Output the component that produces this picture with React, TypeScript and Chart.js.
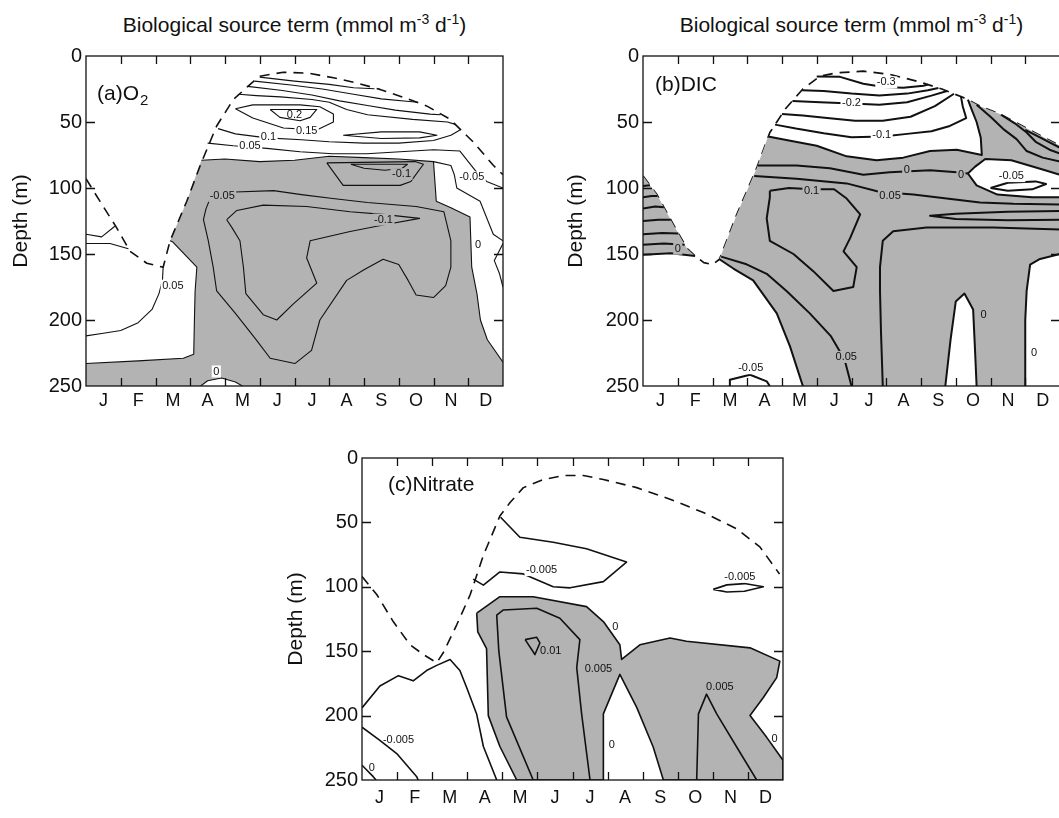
import React, { useEffect, useRef } from 'react';
import { Chart, registerables } from 'chart.js';

Chart.register(...registerables);

type P = [number, number];
type Lbl = [string, number, number, string];

// ---------- tick labels ----------
const MONTHS = ['J', 'F', 'M', 'A', 'M', 'J', 'J', 'A', 'S', 'O', 'N', 'D'];
const DEPTH_TICKS = [0, 50, 100, 150, 200, 250];

// ---------- panel (a) O2 : [month, depth m] ----------
const A_MLD: P[] = [[0, 93], [0.4, 110], [0.88, 130], [1.27, 148], [1.75, 157], [2.22, 160], [2.42, 140], [2.9, 110], [3.3, 82], [3.76, 53], [4.24, 33], [4.7, 22], [5.0, 15.3], [5.68, 12.3], [6.4, 13], [7.12, 16.5], [7.8, 20.5], [8.46, 25.3], [9.1, 31], [9.8, 37.8], [10.47, 47.8], [11.15, 65.3], [11.72, 82.8], [12, 90]];
const A_GRAY: P[] = [[3.32, 79], [4, 78], [5, 80], [6, 79], [7, 76], [8, 77], [9, 78], [10, 80], [10.08, 110], [10.5, 115], [11.05, 122], [11.1, 160], [11.25, 180], [11.35, 200], [11.55, 215], [12, 232], [12, 250], [4.5, 250], [4.3, 247], [3.9, 244], [3.5, 246], [3.3, 250], [0, 250], [0, 233], [1.5, 231], [2.8, 229], [3.1, 226], [3.12, 200], [3.14, 178], [3.19, 160], [2.5, 141], [2.42, 140], [2.9, 110], [3.32, 79]];
const A_ZERO_TOP: P[] = [[3.32, 79], [4, 78], [5, 80], [6, 79], [7, 76], [8, 77], [9, 78], [10, 80], [10.08, 110], [10.5, 115], [11.05, 122], [11.1, 160], [11.25, 180], [11.35, 200], [11.55, 215], [12, 232]];
const A_ZERO_LEFT: P[] = [[2.42, 140], [2.5, 141], [3.19, 160], [3.14, 178], [3.12, 200], [3.1, 226], [2.8, 229], [1.5, 231], [0, 233]];
const A_ZERO_BUMP: P[] = [[3.3, 250], [3.5, 246], [3.9, 244], [4.3, 247], [4.5, 250]];
const A_U1: P[] = [[5.0, 16], [6.0, 19], [7.0, 21.5], [7.7, 24], [8.3, 24.8]];
const A_U2: P[] = [[4.85, 19], [5.9, 22], [6.8, 25], [7.7, 29], [8.5, 32.5], [9.3, 34.5], [9.55, 35]];
const A_U3: P[] = [[4.65, 23], [5.6, 26], [6.5, 29.5], [7.3, 34], [8.1, 37.5], [8.9, 41], [9.9, 44], [10.2, 44.5]];
const A_U4: P[] = [[4.4, 29], [4.9, 30], [5.6, 31], [6.5, 33], [7.0, 35], [7.5, 40.5], [8.1, 44.5], [9.4, 48], [10.4, 50], [10.65, 52]];
const A_C015: P[] = [[4.3, 40], [4.8, 47], [5.68, 54.5], [6.64, 56], [7.12, 50], [7.12, 44], [6.73, 38.5], [6.16, 37], [4.8, 37], [4.3, 40]];
const A_C02: P[] = [[5.3, 40.5], [5.58, 46.5], [6.16, 49], [6.45, 46.5], [6.64, 40.5], [5.3, 40.5]];
const A_OVAL: P[] = [[7.4, 60], [8.5, 57.5], [9.6, 57.5], [10.1, 60], [9.6, 62], [8.5, 62.5], [7.4, 60]];
const A_C01: P[] = [[3.8, 55], [4.3, 59], [5.2, 62], [6.2, 63.5], [7.0, 65], [8, 66], [9, 66], [10, 64], [10.5, 60], [10.8, 55.5]];
const A_C005: P[] = [[3.5, 66], [4.24, 68], [5.2, 70], [6.16, 72.5], [7.1, 74], [8.08, 74], [9.04, 72.5], [10, 71], [10.76, 72], [11.0, 80], [11.24, 88], [11.53, 95], [12, 100]];
const A_R1: P[] = [[10.0, 80], [10.5, 83], [10.6, 90], [10.67, 100], [11.34, 110], [11.72, 135], [12, 140]];
const A_R3: P[] = [[12, 142], [11.75, 155], [11.9, 165], [12, 175]];
const A_L1: P[] = [[0, 135], [0.45, 137], [0.83, 129]];
const A_L2: P[] = [[0, 142], [0.69, 142], [1.22, 146]];
const A_L005: P[] = [[2.22, 160], [2.2, 170], [2.1, 180], [1.9, 192], [1.5, 202], [1.0, 208], [0.5, 210], [0, 212]];
const A_M005: P[] = [[3.45, 116], [3.6, 106], [4.3, 103], [5.4, 102], [6.2, 105], [7.1, 108], [8.1, 111], [9.5, 114], [10.3, 118], [10.5, 140], [10.5, 160], [10.35, 174], [10.0, 183], [9.5, 181], [9.27, 170], [9.0, 158], [8.55, 154], [8.0, 162], [7.5, 170], [6.73, 200], [6.49, 223], [6.01, 233], [5.3, 229], [4.9, 215], [4.3, 195], [3.76, 178], [3.66, 160], [3.52, 140], [3.38, 124], [3.45, 116]];
const A_M01: P[] = [[4.05, 124], [4.34, 117], [5.1, 113], [6.35, 114], [7.6, 118], [8.55, 120], [9.6, 123], [8.55, 128], [7.6, 133], [6.45, 140], [6.35, 153], [6.64, 172], [5.96, 188], [5.49, 200], [5.1, 196], [4.6, 180], [4.53, 160], [4.43, 140], [4.2, 130], [4.05, 124]];
const A_TRAP: P[] = [[6.93, 81], [9.47, 80], [9.71, 82], [9.35, 95], [9.04, 98], [7.4, 98], [6.93, 81]];
const A_LENS: P[] = [[7.62, 82], [8.0, 85], [8.6, 86.5], [9.1, 85], [9.25, 82], [7.62, 82]];
const A_LABELS: Lbl[] = [['0.2', 6.0, 45, ''], ['0.15', 6.35, 56.5, 'w'], ['0.1', 5.25, 61.5, 'w'], ['0.05', 4.72, 68.5, 'w'], ['-0.1', 9.08, 89.5, 'g'], ['-0.05', 11.1, 92, 'w'], ['-0.05', 3.92, 106, 'g'], ['-0.1', 8.56, 124, 'g'], ['0', 11.28, 143.5, 'w'], ['0.05', 2.5, 174, 'w'], ['0', 3.75, 239, 'w']];

// ---------- panel (b) DIC ----------
const B_MLD: P[] = [[0, 91], [0.4, 105], [0.88, 128], [1.27, 146], [1.5, 151.5], [1.75, 156.5], [2.0, 158], [2.2, 154], [2.7, 120], [3.27, 85], [3.65, 58], [4.1, 40], [4.6, 25], [5.09, 15.3], [5.57, 12.8], [6.34, 11.5], [7.11, 14], [7.87, 19], [8.6, 25], [9.22, 31.5], [9.7, 38], [10.27, 44], [11.2, 57], [11.71, 64], [12, 68]];
const B_GRAY: P[] = [[2.2, 154], [2.7, 120], [3.27, 85], [3.6, 61], [4.2, 64], [5.0, 68], [5.86, 76], [6.72, 79], [7.49, 77], [8.26, 72], [9.03, 71], [9.75, 75], [9.72, 62], [9.6, 50], [9.45, 40], [9.35, 33.1], [9.7, 38], [10.27, 44], [11.2, 57], [11.71, 64], [12, 68], [12, 150], [11.4, 154], [11.14, 158], [11.04, 178], [11.0, 200], [11.0, 250], [9.6, 250], [9.55, 220], [9.5, 192], [9.25, 180], [9.0, 186], [8.85, 215], [8.7, 250], [4.6, 250], [4.23, 220], [3.85, 195], [3.17, 170], [2.6, 161], [2.2, 154]];
const B_TRI: P[] = [[0, 91], [0.4, 105], [0.88, 128], [1.27, 146], [1.5, 151.5], [0.8, 149.5], [0, 150.5], [0, 91]];
const B_T1: P[] = [[0, 98.5], [0.2, 98]];
const B_T2: P[] = [[0, 107], [0.25, 106], [0.42, 106]];
const B_T3: P[] = [[0, 115.5], [0.35, 114], [0.6, 114.5]];
const B_T4: P[] = [[0, 125], [0.45, 124], [0.8, 124]];
const B_T5: P[] = [[0, 135], [0.55, 134], [1.02, 134.5]];
const B_T6: P[] = [[0, 143], [0.6, 142], [1.2, 143]];
const B_T0: P[] = [[0, 150.5], [0.8, 149.5], [1.5, 151.5]];
const B_L1: P[] = [[5.0, 15.5], [5.67, 15.8], [6.34, 21], [6.92, 23.5], [7.49, 24], [8.07, 22.5], [8.2, 21.7]];
const B_L2: P[] = [[4.58, 26], [5.2, 26.5], [6.0, 28.5], [6.8, 30], [7.6, 28.5], [8.2, 26], [8.5, 24.2]];
const B_L3: P[] = [[4.3, 34], [5.1, 35], [6.0, 36], [6.8, 37], [7.6, 35], [8.3, 30], [8.75, 26.5]];
const B_L4: P[] = [[4.0, 44], [4.6, 45], [5.3, 47], [6.1, 49], [6.9, 49], [7.7, 46], [8.4, 38], [8.95, 28.6]];
const B_L5: P[] = [[3.8, 52], [4.4, 55], [5.2, 58.5], [6.0, 61.5], [6.9, 61], [7.6, 59], [8.3, 57], [8.83, 53], [9.3, 47], [9.2, 38], [9.15, 30.8]];
const B_ZERO_TOP: P[] = [[3.6, 61], [4.2, 64], [5.0, 68], [5.86, 76], [6.72, 79], [7.49, 77], [8.26, 72], [9.03, 71], [9.75, 75], [9.72, 62], [9.6, 50], [9.45, 40], [9.35, 33.1]];
const B_A: P[] = [[3.3, 83], [4.42, 83], [5.38, 85], [6.34, 90], [7.1, 88], [8.26, 86.5], [9.03, 88], [9.35, 89]];
const B_WHITE: P[] = [[9.35, 89], [9.55, 84], [9.85, 78], [10.6, 79], [11.5, 86], [12, 90], [12, 107], [11.2, 107], [10.2, 105], [9.6, 98], [9.35, 89]];
const B_LENS: P[] = [[10.0, 100], [10.5, 96], [11.3, 95], [11.6, 97], [11.2, 101], [10.5, 102], [10.0, 100]];
const B_B: P[] = [[3.2, 91], [4.42, 93], [5.86, 96.5], [6.82, 103], [7.78, 105], [8.74, 108], [9.7, 111], [10.66, 112], [12, 112.5]];
const B_C: P[] = [[3.65, 102], [4.2, 100], [4.85, 101], [5.5, 101], [5.86, 108], [6.25, 120], [5.96, 138], [5.77, 148], [6.15, 160], [6.05, 175], [5.48, 178], [4.9, 163], [4.33, 150], [3.65, 140], [3.56, 123], [3.65, 107], [3.65, 102]];
const B_TONGUE: P[] = [[12, 117.5], [10.5, 118], [9.0, 119.5], [8.26, 121], [9.0, 123.5], [10.5, 124.5], [12, 124]];
const B_D: P[] = [[12, 131.5], [10.08, 130], [8.16, 130], [7.2, 132.8], [6.9, 140], [6.82, 160], [6.82, 178], [6.85, 210], [6.9, 250]];
const B_E: P[] = [[2.25, 152], [2.98, 157.8], [3.56, 165], [4.13, 178], [4.8, 195], [5.4, 212], [5.8, 230], [6.0, 250]];
const B_GLEFT: P[] = [[2.2, 154], [2.6, 161], [3.17, 170], [3.85, 195], [4.23, 220], [4.6, 250]];
const B_SPIKE: P[] = [[8.7, 250], [8.85, 215], [9.0, 186], [9.25, 180], [9.5, 192], [9.55, 220], [9.6, 250]];
const B_RWHITE: P[] = [[12, 150], [11.4, 154], [11.14, 158], [11.04, 178], [11.0, 200], [11.0, 250]];
const B_BUMP: P[] = [[2.5, 250], [2.5, 245.3], [3.08, 241.5], [3.56, 246.5], [3.65, 250]];
const B_G1: P[] = [[9.6, 37], [10.0, 46], [10.4, 56], [10.75, 63], [11.04, 72], [11.5, 77], [12, 80]];
const B_G2: P[] = [[10.3, 44.5], [10.7, 51], [11.04, 58], [11.3, 65], [11.7, 71], [12, 74]];
const B_G3: P[] = [[11.0, 56], [11.45, 62], [12, 69.5]];
const B_LABELS: Lbl[] = [['-0.3', 7.0, 20, 'w'], ['-0.2', 6.0, 35.5, 'w'], ['-0.1', 6.87, 60, 'w'], ['0', 7.59, 86, 'g'], ['0', 9.15, 90, 'g'], ['-0.05', 10.6, 91, 'w'], ['0.1', 4.85, 102, 'g'], ['0.05', 7.11, 106, 'g'], ['0', 1.0, 146, 'g'], ['-0.05', 3.1, 236.5, 'w'], ['0.05', 5.85, 228, 'g'], ['0', 9.8, 196, 'g'], ['0', 11.25, 225, 'w']];

// ---------- panel (c) Nitrate ----------
const C_MLD: P[] = [[0, 92], [0.42, 106], [0.89, 127], [1.37, 145], [1.75, 152.6], [2.13, 159], [2.32, 151], [2.7, 129.5], [3.08, 106.4], [3.46, 75.6], [3.93, 45], [4.22, 34.6], [4.6, 23], [5.17, 16.7], [5.74, 13.6], [6.31, 13.6], [6.88, 16.7], [7.83, 23], [8.78, 32], [9.73, 42.3], [10.68, 55], [11.34, 69], [11.9, 90]];
const C_GRAY: P[] = [[3.27, 120.5], [3.93, 107.7], [4.88, 107.7], [6.4, 115.4], [6.88, 127], [7.35, 145], [7.4, 156.4], [7.92, 145], [8.78, 139.7], [9.25, 142.3], [11.06, 147.4], [11.91, 157.7], [11.82, 170.5], [11.44, 186], [11.06, 200], [11.53, 216.7], [12, 234.6], [12, 250], [8.59, 250], [8.3, 224.4], [7.83, 193.6], [7.35, 168], [6.88, 198.7], [6.88, 250], [4.41, 250], [3.93, 224], [3.6, 200], [3.55, 148], [3.3, 135], [3.27, 120.5]];
const C_M005A: P[] = [[3.17, 94], [3.46, 98.7], [3.93, 88.5], [4.6, 90], [5.45, 100], [5.93, 100.8], [6.88, 96], [7.54, 80.8], [6.4, 70.5], [5.45, 65.4], [4.5, 61.5], [3.95, 46]];
const C_LENS: P[] = [[10.01, 102], [10.4, 98.5], [10.9, 97.5], [11.44, 100], [10.9, 103.5], [10.4, 104], [10.01, 102]];
const C_005A: P[] = [[4.88, 250], [4.12, 201], [3.9, 150], [3.84, 122], [4.03, 118], [4.98, 116.7], [5.64, 124.4], [6.21, 141], [6.12, 162.8], [6.26, 198.7], [6.5, 250]];
const C_001: P[] = [[4.65, 141], [4.98, 139.2], [5.07, 143.6], [4.93, 152.6], [4.65, 141]];
const C_005B: P[] = [[9.54, 250], [9.59, 198.7], [9.82, 183.3], [10.11, 198.7], [10.68, 224.4], [11.25, 250]];
const C_0LEFT: P[] = [[0, 194], [0.51, 177], [1.04, 169], [1.46, 173], [1.84, 165], [2.13, 161], [2.51, 156.4], [2.79, 165], [2.98, 178], [3.27, 199], [3.46, 224], [3.84, 250]];
const C_M005B: P[] = [[0, 209], [0.5, 219], [0.99, 229.5], [1.56, 247.4], [1.6, 250]];
const C_0CORNER: P[] = [[0, 238.5], [0.32, 247.4], [0.4, 250]];
const C_LABELS: Lbl[] = [['-0.005', 5.12, 87, 'w'], ['-0.005', 10.77, 92, 'w'], ['0', 7.22, 131, ''], ['0.01', 5.38, 150, ''], ['0.005', 6.74, 164, 'g'], ['0', 7.12, 223, 'w'], ['0.005', 10.2, 178, 'g'], ['0', 11.76, 218, ''], ['-0.005', 1.04, 219, ''], ['0', 0.28, 241, '']];

// ---------- styles ----------
const INK = '#111111';
const GRAY = '#b3b3b3';
const FONT = '"Liberation Sans", Arial, Helvetica, sans-serif';

const xy = (a: P[]) => a.map(([x, y]) => ({ x, y }));
const ln = (a: P[], w: number, order = 10, dash: number[] = []) => ({
  data: xy(a), borderColor: INK, borderWidth: w, borderDash: dash, pointRadius: 0,
  fill: false, tension: 0, order, borderJoinStyle: 'round', borderCapStyle: 'butt',
});
const area = (a: P[], color: string, order: number, border = 0) => ({
  data: xy(a), backgroundColor: color, borderColor: INK, borderWidth: border, pointRadius: 0,
  fill: 'shape', tension: 0, order, borderJoinStyle: 'round',
});

interface Spec {
  left: number; top: number; w: number; h: number; padRight: number;
  titlePad: number; xPad: number;
  datasets: any[]; labels: Lbl[];
  tag: string; tagSub: string; tagDx: number; tagDy: number;
}

const DASH = [10, 7];

const SPEC_A: Spec = {
  left: 0, top: 40, w: 530, h: 380, padRight: 27, titlePad: 9, xPad: 4,
  tag: '(a)O', tagSub: '2', tagDx: 11, tagDy: 43.5, labels: A_LABELS,
  datasets: [
    area(A_GRAY, GRAY, 40),
    ...[A_ZERO_TOP, A_ZERO_LEFT, A_ZERO_BUMP, A_U1, A_U2, A_U3, A_U4, A_C015, A_C02, A_OVAL, A_C01, A_C005, A_R1, A_R3, A_L1, A_L2, A_L005, A_M005, A_M01, A_TRAP, A_LENS].map((a) => ln(a, 1.1)),
    ln(A_MLD, 1.6, 5, DASH),
  ],
};

const SPEC_B: Spec = {
  left: 557, top: 40, w: 530, h: 380, padRight: 27, titlePad: 7, xPad: 4,
  tag: '(b)DIC', tagSub: '', tagDx: 12, tagDy: 35, labels: B_LABELS,
  datasets: [
    ln(B_MLD, 1.7, 50, DASH),
    area(B_GRAY, GRAY, 40),
    area(B_TRI, GRAY, 40),
    area(B_WHITE, '#ffffff', 30, 2),
    ...[B_T1, B_T2, B_T3, B_T4, B_T5, B_T6, B_T0, B_L1, B_L2, B_L3, B_L4, B_L5, B_ZERO_TOP, B_A, B_LENS, B_B, B_C, B_TONGUE, B_D, B_E, B_GLEFT, B_SPIKE, B_RWHITE, B_BUMP, B_G1, B_G2, B_G3].map((a) => ln(a, 2)),
  ],
};

const SPEC_C: Spec = {
  left: 276, top: 442, w: 534, h: 372, padRight: 27, titlePad: 8, xPad: 7,
  tag: '(c)Nitrate', tagSub: '', tagDx: 26, tagDy: 33, labels: C_LABELS,
  datasets: [
    area(C_GRAY, GRAY, 40, 1.6),
    ...[C_M005A, C_LENS, C_005A, C_001, C_005B, C_0LEFT, C_M005B, C_0CORNER].map((a) => ln(a, 1.6)),
    ln(C_MLD, 1.6, 5, DASH),
  ],
};

function buildConfig(spec: Spec): any {
  const decor = {
    id: 'decor',
    afterDatasetsDraw(chart: any) {
      const ctx = chart.ctx;
      const xs = chart.scales.x;
      const ys = chart.scales.y;
      ctx.save();
      ctx.font = `11px ${FONT}`;
      ctx.textAlign = 'center';
      ctx.textBaseline = 'middle';
      for (const [text, x, y, bg] of spec.labels) {
        const px = xs.getPixelForValue(x);
        const py = ys.getPixelForValue(y);
        const w = ctx.measureText(text).width;
        if (bg) {
          ctx.fillStyle = bg === 'w' ? '#ffffff' : GRAY;
          ctx.fillRect(px - w / 2 - 1.5, py - 6, w + 3, 12);
        }
        ctx.fillStyle = INK;
        ctx.fillText(text, px, py);
      }
      ctx.restore();
    },
    afterDraw(chart: any) {
      const ctx = chart.ctx;
      const { left, right, top, bottom } = chart.chartArea;
      const xs = chart.scales.x;
      const ys = chart.scales.y;
      ctx.save();
      ctx.strokeStyle = INK;
      ctx.lineWidth = 1.3;
      ctx.strokeRect(left, top, right - left, bottom - top);
      ctx.beginPath();
      for (let m = 1; m < 12; m++) {
        const px = Math.round(xs.getPixelForValue(m)) + 0.5;
        ctx.moveTo(px, top); ctx.lineTo(px, top + 8);
        ctx.moveTo(px, bottom); ctx.lineTo(px, bottom - 8);
      }
      for (const d of DEPTH_TICKS.slice(1, -1)) {
        const py = Math.round(ys.getPixelForValue(d)) + 0.5;
        ctx.moveTo(left, py); ctx.lineTo(left + 9, py);
        ctx.moveTo(right, py); ctx.lineTo(right - 9, py);
      }
      ctx.stroke();
      ctx.fillStyle = INK;
      ctx.font = `21px ${FONT}`;
      ctx.textAlign = 'left';
      ctx.textBaseline = 'alphabetic';
      ctx.fillText(spec.tag, left + spec.tagDx, top + spec.tagDy);
      if (spec.tagSub) {
        const w = ctx.measureText(spec.tag).width;
        ctx.font = `15px ${FONT}`;
        ctx.fillText(spec.tagSub, left + spec.tagDx + w + 1, top + spec.tagDy + 5);
      }
      ctx.restore();
    },
  };
  return {
    type: 'line',
    data: { datasets: spec.datasets },
    options: {
      animation: false,
      responsive: false,
      events: [],
      layout: { padding: { top: 13, right: spec.padRight, left: 0, bottom: 0 } },
      plugins: { legend: { display: false }, tooltip: { enabled: false }, title: { display: false } },
      scales: {
        x: {
          type: 'linear', min: 0, max: 12,
          grid: { display: false, drawTicks: false }, border: { display: false },
          afterBuildTicks: (s: any) => { s.ticks = MONTHS.map((_, i) => ({ value: i + 0.5 })); },
          ticks: {
            autoSkip: false, maxRotation: 0, minRotation: 0, padding: spec.xPad, color: INK,
            font: { size: 18, family: FONT },
            callback: (_v: any, i: number) => MONTHS[i],
          },
          afterFit: (s: any) => { s.height = 34; },
        },
        y: {
          type: 'linear', reverse: true, min: 0, max: 250,
          grid: { display: false, drawTicks: false }, border: { display: false },
          afterBuildTicks: (s: any) => { s.ticks = DEPTH_TICKS.map((v) => ({ value: v })); },
          ticks: { autoSkip: false, padding: 4, color: INK, font: { size: 20, family: FONT }, callback: (v: any) => String(v) },
          title: { display: true, text: 'Depth (m)', color: INK, font: { size: 21, family: FONT }, padding: { top: spec.titlePad, bottom: 0 } },
          afterFit: (s: any) => { s.width = 86; },
        },
      },
    },
    plugins: [decor],
  };
}

function Panel({ spec }: { spec: Spec }) {
  const ref = useRef<HTMLCanvasElement>(null);
  useEffect(() => {
    const chart = new Chart(ref.current as HTMLCanvasElement, buildConfig(spec));
    return () => chart.destroy();
  }, [spec]);
  return (
    <canvas
      ref={ref}
      width={spec.w}
      height={spec.h}
      style={{ position: 'absolute', left: spec.left, top: spec.top, width: spec.w, height: spec.h }}
    />
  );
}

const supStyle: React.CSSProperties = { fontSize: 14, position: 'relative', top: -8, verticalAlign: 'baseline' };

function Title({ left }: { left: number }) {
  return (
    <div
      style={{
        position: 'absolute', left, top: 13, width: 417, textAlign: 'center',
        fontFamily: FONT, fontSize: 21, lineHeight: '24px', color: INK, whiteSpace: 'nowrap',
      }}
    >
      Biological source term (mmol m<span style={supStyle}>-3</span> d<span style={supStyle}>-1</span>)
    </div>
  );
}

export default function App() {
  return (
    <div style={{ position: 'absolute', left: 0, top: 0, width: 1059, height: 818, overflow: 'hidden', background: '#ffffff' }}>
      <Title left={86} />
      <Title left={643} />
      <Panel spec={SPEC_A} />
      <Panel spec={SPEC_B} />
      <Panel spec={SPEC_C} />
    </div>
  );
}
